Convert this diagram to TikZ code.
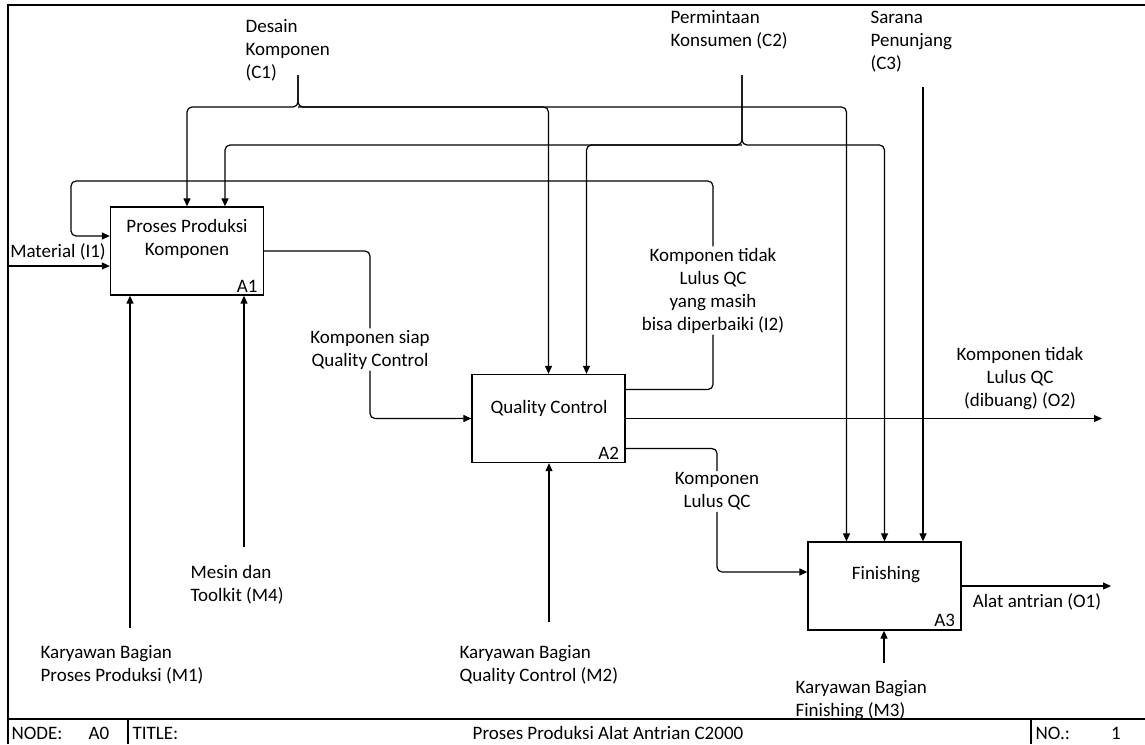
\documentclass[tikz,border=0pt]{standalone}
\usepackage{fontspec}
\setmainfont{Carlito}
\usetikzlibrary{positioning,arrows.meta}

\begin{document}
\begin{tikzpicture}[
    x=1pt, y=-1pt,
    font=\fontsize{19}{23}\selectfont,
    line width=1.2pt,
    fungsi/.style={rectangle, draw, minimum width=153pt, minimum height=88pt, line width=1.3pt},
    teks/.style={inner sep=1pt, align=center},
    teksL/.style={inner sep=1pt, align=left, anchor=west},
    nomor/.style={inner xsep=6pt, inner ysep=3pt, anchor=south east},
    arrow/.style={-{Stealth[length=8pt, width=7pt, inset=0pt]}, rounded corners=5pt},
    garis/.style={rounded corners=5pt}
]
\useasboundingbox (0,0) rectangle (1145,744);

% Bingkai
\draw[line width=1.6pt] (8,744) -- (8,5) -- (1145,5);
\draw (8,719) -- (1145,719);
\draw (128,719) -- (128,744);
\draw (1031,719) -- (1031,744);
\node[teksL] (nd) at (10,733) {NODE:};
\node[teks] (nda) at (99,733) {A0};
\node[teksL] (ttl) at (131,733) {TITLE:};
\node[teks] (judul) at (608,733) {Proses Produksi Alat Antrian C2000};
\node[teksL] (no) at (1034,733) {NO.:};
\node[teks] (nomor1) at (1116,733) {1};

% Aktivitas
\node[fungsi] (a1) at (187,251) {};
\node[fungsi] (a2) at (548.5,418.5) {};
\node[fungsi] (a3) at (884.5,586) {};
\node[teks] (a1txt) at (187,239) {Proses Produksi\\Komponen};
\node[teks] (a2txt) at (549,408) {Quality Control};
\node[teks] (a3txt) at (886,575) {Finishing};
\node[nomor] (a1no) at (a1.south east) {A1};
\node[nomor] (a2no) at (a2.south east) {A2};
\node[nomor] (a3no) at (a3.south east) {A3};

% Label panah
\node[teksL] (c1) at (244,50) {Desain\\Komponen\\(C1)};
\node[teksL] (c2) at (669,29.5) {Permintaan\\Konsumen (C2)};
\node[teksL] (c3) at (869,41.5) {Sarana\\Penunjang\\(C3)};
\node[teks] (mat) at (58,252) {Material (I1)};
\node[teks] (i2) at (713,290.5) {Komponen tidak\\Lulus QC\\yang masih\\bisa diperbaiki (I2)};
\node[teks] (ksqc) at (370,349.5) {Komponen siap\\Quality Control};
\node[teks] (o2) at (1020,378.5) {Komponen tidak\\Lulus QC\\(dibuang) (O2)};
\node[teks] (lqc) at (717,491.5) {Komponen\\Lulus QC};
\node[teks] (o1) at (1037,602) {Alat antrian (O1)};
\node[teksL] (m4) at (189,585) {Mesin dan\\Toolkit (M4)};
\node[teksL] (m1) at (39,664.5) {Karyawan Bagian\\Proses Produksi (M1)};
\node[teksL] (m2) at (458,664.5) {Karyawan Bagian\\Quality Control (M2)};
\node[teksL] (m3) at (794,700) {Karyawan Bagian\\Finishing (M3)};

\coordinate (c1s) at (298,75);
\coordinate (c2s) at (742,75);
\coordinate (c3s) at (923,87);
\coordinate (c1j) at (298,107);
\coordinate (c2j) at (742,145);
\coordinate (i2j) at (71,181);
\coordinate (min) at (8,266);
\coordinate (o2e) at (1102,418.5);
\coordinate (o1e) at (1111,586);
\coordinate (m1s) at (130,628);
\coordinate (m4s) at (244,547);
\coordinate (m2s) at (549,622);
\coordinate (m3s) at (884,663);

% Kontrol
\draw[arrow] (c1s) -- (c1j) -| (a1.north);
\draw[arrow] (c1s) -- (c1j) -| (a2.north);
\draw[arrow] (c1j) -| ([xshift=-38pt]a3.north);
\draw[arrow] (c2s) -- (c2j) -| ([xshift=38pt]a1.north);
\draw[arrow] (c2s) -- (c2j) -| (a3.north);
\draw[arrow] (c2j) -| ([xshift=38pt]a2.north);
\draw[arrow] (c3s) -- (c3s |- a3.north);

% Input dan output
\draw[arrow] (min) -- (min -| a1.west);
\draw[garis] (a1.east) -| (ksqc.north);
\draw[arrow] (ksqc.south) |- (a2.west);
\draw[garis] ([yshift=29pt]a2.east) -| (i2.south);
\draw[arrow] (i2.north) |- (i2j) |- ([yshift=15pt]a1.west);
\draw[arrow] (a2.east) -- (o2e);
\draw[garis] ([yshift=-30pt]a2.east) -| (lqc.north);
\draw[arrow] (lqc.south) |- ([yshift=14pt]a3.west);
\draw[arrow] (a3.east) -- (o1e);

% Mekanisme
\draw[arrow] (m1s) -- (m1s |- a1.south);
\draw[arrow] (m4s) -- (m4s |- a1.south);
\draw[arrow] (m2s) -- (m2s |- a2.south);
\draw[arrow] (m3s) -- (m3s |- a3.south);

\end{tikzpicture}
\end{document}
